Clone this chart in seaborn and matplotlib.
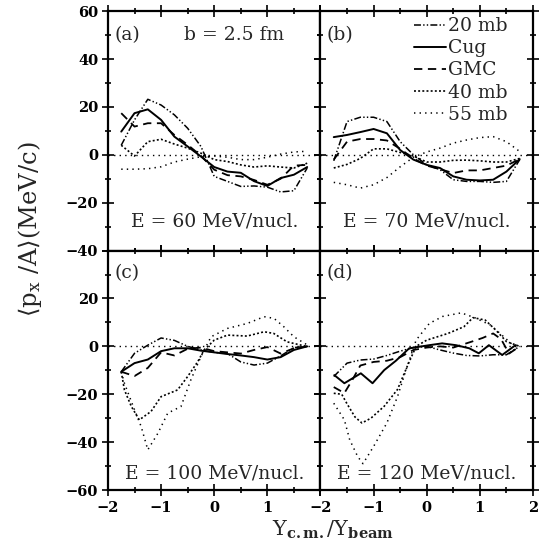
import matplotlib
matplotlib.use("Agg")
import matplotlib.pyplot as plt
from matplotlib.ticker import MultipleLocator, FuncFormatter
import seaborn as sns
import pandas as pd

# ---------------- data ----------------
series_names = ["20 mb", "Cug", "GMC", "40 mb", "55 mb"]
panel_tags = ["(a)", "(b)", "(c)", "(d)"]
energy_labels = ["E = 60 MeV/nucl.", "E = 70 MeV/nucl.",
                 "E = 100 MeV/nucl.", "E = 120 MeV/nucl."]
impact_label = "b = 2.5 fm"

grid_x = [-1.75, -1.5, -1.25, -1.0, -0.75, -0.5, -0.25, 0.0,
          0.25, 0.5, 0.75, 1.0, 1.25, 1.5, 1.75]

# panel (a) E = 60
a_20mb = [4.0, 14.6, 23.2, 20.8, 16.7, 11.1, 3.5, -9.0, -11.1, -13.2, -13.0, -13.5, -15.5, -15.0, -5.5]
a_cug = [9.7, 17.4, 19.0, 14.6, 7.6, 3.5, -0.7, -5.1, -7.0, -7.5, -11.0, -13.0, -9.7, -8.3, -5.1]
a_gmc = [17.4, 11.8, 13.2, 13.2, 8.3, 4.2, -0.4, -6.2, -8.5, -9.0, -10.5, -12.5, -10.0, -4.5, -4.2]
a_40mb = [4.0, -0.5, 5.5, 6.5, 4.5, 2.8, 0.7, -2.0, -2.8, -4.2, -5.1, -4.6, -5.1, -5.5, -3.5]
a_55mb = [-6.0, -6.0, -5.8, -5.0, -3.0, -1.8, -0.8, -0.5, -1.0, -2.0, -2.0, -1.0, 0.3, 1.2, 1.5]

# panel (b) E = 70
b_20mb = [-2.5, 13.9, 15.7, 15.7, 13.9, 5.5, 0.0, -4.2, -6.2, -10.4, -11.1, -11.1, -11.5, -11.1, -2.0]
b_cug = [7.4, 8.3, 9.5, 10.8, 9.0, 2.0, -2.0, -4.2, -5.5, -9.0, -10.4, -10.7, -10.4, -7.0, -1.8]
b_gmc = [-2.0, 5.5, 6.6, 6.6, 6.0, 2.5, -1.5, -4.5, -6.0, -7.6, -6.5, -6.5, -5.5, -4.5, -1.8]
b_40mb = [-5.5, -4.0, -1.5, 2.5, 2.5, 1.0, -0.5, -3.0, -3.0, -2.3, -2.2, -2.5, -3.0, -3.0, -1.5]
b_55mb = [-11.5, -12.5, -13.9, -12.5, -9.5, -5.0, -1.0, 1.2, 2.8, 4.9, 6.2, 7.2, 7.6, 5.5, 1.4]

# panel (c) E = 100
c_20mb = [-10.6, -2.9, 0.5, 3.5, 2.5, 0.0, -1.5, -2.5, -3.0, -6.5, -7.8, -7.0, -4.0, -0.5, 0.0]
c_cug = [-10.6, -7.0, -5.5, -2.0, -0.8, -0.8, -1.8, -2.5, -3.2, -3.8, -4.5, -5.5, -4.5, -1.5, 0.0]
c_gmc = [-10.6, -12.4, -9.0, -2.5, -3.8, -1.0, -0.5, -2.0, -2.5, -3.0, -1.5, -0.3, -3.0, -0.8, 0.0]
c_40mb_x = [-1.75, -1.69, -1.56, -1.41, -1.19, -1.0, -0.69, -0.5, -0.31, -0.19, 0.0, 0.25, 0.62, 0.94, 1.12, 1.37, 1.75]
c_40mb = [-10.6, -18.2, -25.1, -30.7, -27.2, -21.0, -18.2, -12.6, -6.4, -1.5, 2.6, 4.7, 4.3, 6.1, 5.4, 1.9, -0.1]
c_55mb_x = [-1.75, -1.69, -1.5, -1.375, -1.25, -1.06, -0.875, -0.625, -0.44, -0.25, -0.06, 0.25, 0.625, 0.94, 1.125, 1.31, 1.5, 1.75]
c_55mb = [-10.6, -15.4, -26.5, -33.5, -43.2, -36.3, -27.9, -25.1, -14.0, -4.3, 4.0, 7.5, 9.6, 12.4, 11.7, 8.2, 4.0, 0.6]

# panel (d) E = 120
d_20mb = [-12.6, -7.0, -5.7, -5.3, -3.8, -2.0, -0.5, 0.0, -1.5, -2.8, -3.8, -4.0, -3.5, -3.5, 0.0]
d_cug_x = [-1.74, -1.55, -1.24, -1.02, -0.80, -0.58, -0.33, 0.05, 0.29, 0.55, 0.80, 0.98, 1.17, 1.42, 1.67]
d_cug = [-12.0, -15.4, -11.25, -15.4, -9.9, -6.0, -0.8, 0.5, 1.25, 0.5, -0.8, -2.9, 0.5, -3.6, 0.5]
d_gmc_x = [-1.75, -1.55, -1.4, -1.25, -1.0, -0.75, -0.5, -0.25, 0.0, 0.25, 0.5, 0.85, 1.05, 1.25, 1.4, 1.55, 1.75]
d_gmc = [-17.0, -19.5, -14.0, -8.0, -6.5, -6.0, -4.5, -1.5, -0.5, 0.0, -0.5, 2.0, 3.5, 5.4, 3.0, -3.0, 0.0]
d_40mb_x = [-1.75, -1.6, -1.5, -1.35, -1.22, -1.05, -0.8, -0.55, -0.37, -0.2, 0.0, 0.4, 0.7, 0.87, 1.1, 1.3, 1.5, 1.75]
d_40mb = [-19.6, -20.0, -24.0, -29.5, -32.0, -30.0, -25.0, -18.0, -8.5, 0.0, 2.6, 5.4, 8.2, 12.0, 11.0, 6.8, 2.0, 0.0]
d_55mb_x = [-1.75, -1.55, -1.45, -1.3, -1.2, -1.0, -0.75, -0.55, -0.37, -0.2, 0.05, 0.3, 0.65, 0.9, 1.2, 1.4, 1.6, 1.75]
d_55mb = [-23.75, -30.7, -39.0, -46.0, -49.0, -41.8, -32.0, -21.0, -8.5, 2.6, 9.6, 12.5, 14.0, 12.0, 8.9, 5.0, 1.0, 0.0]

panels = [
    [(grid_x, a_20mb), (grid_x, a_cug), (grid_x, a_gmc), (grid_x, a_40mb), (grid_x, a_55mb)],
    [(grid_x, b_20mb), (grid_x, b_cug), (grid_x, b_gmc), (grid_x, b_40mb), (grid_x, b_55mb)],
    [(grid_x, c_20mb), (grid_x, c_cug), (grid_x, c_gmc), (c_40mb_x, c_40mb), (c_55mb_x, c_55mb)],
    [(grid_x, d_20mb), (d_cug_x, d_cug), (d_gmc_x, d_gmc), (d_40mb_x, d_40mb), (d_55mb_x, d_55mb)],
]

# ---------------- styles ----------------
line_styles = {
    "20 mb": dict(linestyle=(0, (5, 1.6, 1, 1.6, 1, 1.6)), linewidth=1.1),
    "Cug": dict(linestyle="-", linewidth=1.4),
    "GMC": dict(linestyle=(0, (6, 4)), linewidth=1.3),
    "40 mb": dict(linestyle=(0, (1.4, 1.6)), linewidth=1.2),
    "55 mb": dict(linestyle=(0, (1, 3)), linewidth=1.1),
}

sns.set_theme(style="ticks")
plt.rcParams["font.family"] = ["DejaVu Serif"]
plt.rcParams["mathtext.fontset"] = "dejavuserif"
plt.rcParams["lines.scale_dashes"] = False
plt.rcParams["axes.linewidth"] = 1.6

fig, axes = plt.subplots(2, 2, figsize=(5.48, 5.59), dpi=100)
fig.subplots_adjust(left=0.197, right=0.9726, top=0.980, bottom=0.1234, hspace=0, wspace=0)

ylims = [(-40, 60), (-60, 40)]
TXT = 13.5


def minus(v):
    return f"{v:.0f}".replace("-", "\u2212")


for idx, ax in enumerate(axes.flat):
    row, col = divmod(idx, 2)
    for name, (xs, ys) in zip(series_names, panels[idx]):
        df = pd.DataFrame({"x": xs, "y": ys})
        sns.lineplot(data=df, x="x", y="y", ax=ax, color="black", sort=False,
                     label=name, legend=False, **line_styles[name])
    ax.axhline(0, color="black", linestyle=(0, (1, 3)), linewidth=1.0)
    ax.set_xlim(-2, 2)
    ax.set_ylim(*ylims[row])
    ax.set_xlabel("")
    ax.set_ylabel("")
    ax.xaxis.set_major_locator(MultipleLocator(1))
    ax.xaxis.set_minor_locator(MultipleLocator(0.5))
    ax.yaxis.set_major_locator(MultipleLocator(20))
    ax.yaxis.set_minor_locator(MultipleLocator(10))
    ax.tick_params(which="both", direction="inout", top=True, right=True,
                   width=1.2, labelsize=10.5, colors="black")
    ax.tick_params(which="major", length=8)
    ax.tick_params(which="minor", length=4.5)
    ax.tick_params(axis="x", pad=4, labelbottom=(row == 1))
    ax.tick_params(axis="y", pad=3, labelleft=(col == 0))
    if row == 1 and col == 0:
        ax.xaxis.set_major_formatter(FuncFormatter(lambda v, p: "" if v > 1.5 else minus(v)))
        ax.yaxis.set_major_formatter(FuncFormatter(lambda v, p: "" if v > 30 else minus(v)))
    else:
        ax.xaxis.set_major_formatter(FuncFormatter(lambda v, p: minus(v)))
        ax.yaxis.set_major_formatter(FuncFormatter(lambda v, p: minus(v)))
    for sp in ax.spines.values():
        sp.set_linewidth(1.6)
        sp.set_color("black")

    ax.text(0.03, 0.90 if row == 0 else 0.908, panel_tags[idx], transform=ax.transAxes,
            fontsize=TXT, va="center", ha="left")
    ax.text(0.5, 0.122 if row == 0 else 0.067, energy_labels[idx], transform=ax.transAxes,
            fontsize=TXT, va="center", ha="center")
    if idx == 0:
        ax.text(0.36, 0.90, impact_label, transform=ax.transAxes,
                fontsize=TXT, va="center", ha="left")

for ax in axes.flat:
    fig.canvas.draw_idle()
    plt.setp(ax.get_xticklabels(), fontweight="bold")
    plt.setp(ax.get_yticklabels(), fontweight="bold")
plt.rcParams["font.weight"] = "normal"

# legend in panel (b)
leg = axes[0, 1].legend(loc="upper left", bbox_to_anchor=(0.44, 0.975), frameon=False,
                        fontsize=TXT, handlelength=1.7, handletextpad=0.12,
                        labelspacing=0.22, borderpad=0, borderaxespad=0)

fig.text(0.055, 0.59, r"$\langle \mathregular{p}_{\mathregular{x}}\ /\mathregular{A}\rangle$(MeV/c)",
         rotation=90, ha="center", va="center", fontsize=17.5)
fig.text(0.608, 0.052, r"$\mathregular{Y}_{\mathbf{c.m.}}/\mathregular{Y}_{\mathbf{beam}}$",
         ha="center", va="center", fontsize=15)

# make tick labels bold (formatter-created labels)
for ax in axes.flat:
    for t in ax.xaxis.get_major_ticks() + ax.yaxis.get_major_ticks():
        t.label1.set_fontweight("bold")

fig.savefig("out.png", dpi=100)
